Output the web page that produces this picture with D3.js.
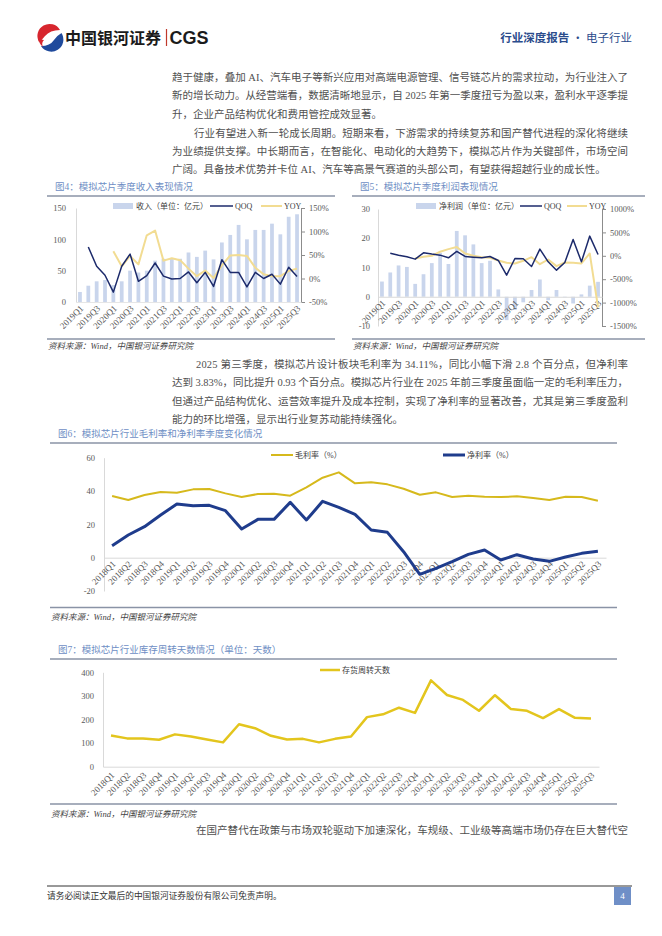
<!DOCTYPE html>
<html><head><meta charset="utf-8">
<script src="https://cdn.jsdelivr.net/npm/d3@7"></script>
<style>
body{margin:0;background:#fff;}
svg{display:block;}
text{font-family:"Liberation Serif","Noto Sans CJK SC",serif;}
</style></head><body>
<svg id="page" width="662" height="936"></svg>
<script>
// ---------- DATA ----------
const q19 = ["2019Q1","2019Q2","2019Q3","2019Q4","2020Q1","2020Q2","2020Q3","2020Q4","2021Q1","2021Q2","2021Q3","2021Q4","2022Q1","2022Q2","2022Q3","2022Q4","2023Q1","2023Q2","2023Q3","2023Q4","2024Q1","2024Q2","2024Q3","2024Q4","2025Q1","2025Q2","2025Q3"];
const q19Ticks = ["2019Q1","2019Q3","2020Q1","2020Q3","2021Q1","2021Q3","2022Q1","2022Q3","2023Q1","2023Q3","2024Q1","2024Q3","2025Q1","2025Q3"];
const revenue = [16,26,33,35,27,33,50,47,50,66,69,69,69,79,72,82,68,95,107,123,100,115,115,125,108,136,140];
const revQoq = [null,67,26,7,-29,26,52,-6,6,33,5,-1,0,14,-9,13,-17,40,13,13,-18,13,0,9,-12,24,4];
const revYoy = [null,null,null,null,58,26,48,30,92,102,38,43,39,21,5,17,1,28,49,50,48,23,9,5,5,16,21];
const profit = [5.2,8.3,10.7,10.2,4.4,7.7,11.5,15,11.2,22.5,21,17.9,11.5,12.3,2.5,-8,-4.5,-1.9,2.3,5.9,-1.2,2.3,-0.2,-2.3,0.8,3.8,5.1];
const profitQoq = [null,55,14,-21,-71,64,36,14,-43,93,-14,-29,-43,-14,-100,-414,-57,-64,-229,143,-129,-307,-143,350,-129,421,29];
const profitYoy = [null,null,null,null,-57,-21,0,86,143,186,50,0,-29,-43,-100,-150,-164,-107,-29,-179,-79,-221,-143,-150,-164,50,-1100];
const q18 = ["2018Q1","2018Q2","2018Q3","2018Q4","2019Q1","2019Q2","2019Q3","2019Q4","2020Q1","2020Q2","2020Q3","2020Q4","2021Q1","2021Q2","2021Q3","2021Q4","2022Q1","2022Q2","2022Q3","2022Q4","2023Q1","2023Q2","2023Q3","2023Q4","2024Q1","2024Q2","2024Q3","2024Q4","2025Q1","2025Q2","2025Q3"];
const grossMargin = [37,34.6,37.6,39.4,39,41,41.2,38.6,36.4,38.2,38.4,37.2,42.2,48,51.2,44.6,45.2,44,41.4,37.8,39.2,36.4,37.2,36.6,36.4,36.8,35.8,34.6,36.6,36.4,34.11];
const netMargin = [7.2,13.6,18.6,25.6,32.2,31.2,31.4,28.2,17.2,23,23,33.2,22.6,33.8,30.2,26,16.6,15.2,3.6,-10,-6.4,-2.4,2,4.6,-1.4,1.8,-0.8,-2.2,0.4,2.6,3.83];
const inventoryDays = [132,120,120,114,137,128,115,103,180,163,131,115,118,103,118,128,210,222,250,228,366,304,283,237,303,244,237,206,244,207,204];
const fig4LeftTicks = [0,50,100,150];
const fig4RightTicks = [-50,0,50,100,150];
const fig5LeftTicks = [-10,0,10,20,30];
const fig5RightTicks = [-1500,-1000,-500,0,500,1000];
const fig6Ticks = [-20,0,20,40,60];
const fig7Ticks = [0,100,200,300,400];

// ---------- PAGE ----------
const svg = d3.select("#page");
const C = {title:"#6e8ec4", frame:"#8a93a6", bar:"#c9d5ec", qoq:"#1c2a6b", yoy:"#f2dc92",
           gross:"#d6b91c", net:"#1f3c8c", inv:"#e3c51d", axisTxt:"#595959", text:"#505050"};

// header logo
svg.append("path").attr("d","M39,42 A11.5,11.5 0 0 1 60,30 Q50,30 45,36 Q42,40 39,42 Z").attr("fill","#d7262e");
svg.append("path").attr("d","M61.5,33 A11.5,11.5 0 0 1 41,46 Q50,46 54,40 Q57,35.5 61.5,33 Z").attr("fill","#1f4a9c");
svg.append("path").attr("d","M38.6,38 A11.5,11.5 0 0 0 43,47 Q41,43 44,40 Q41,40 38.6,38 Z").attr("fill","#d7262e");
svg.append("text").attr("x",65).attr("y",43.5).text("中国银河证券")
  .style("font-family","Noto Sans CJK SC").attr("font-weight",700).attr("font-size",16).attr("fill","#1b1b1b");
svg.append("line").attr("x1",166.5).attr("x2",166.5).attr("y1",29).attr("y2",46).attr("stroke","#c0392b").attr("stroke-width",1.2);
svg.append("text").attr("x",169.5).attr("y",44).text("CGS")
  .style("font-family","Liberation Sans").attr("font-weight",700).attr("font-size",18).attr("fill","#1b1b1b");
const hdr = svg.append("text").attr("x",632).attr("y",42).attr("text-anchor","end").attr("font-size",11.5).attr("fill","#2b4c8c")
  .style("font-family","Noto Sans CJK SC");
hdr.append("tspan").attr("font-weight",700).text("行业深度报告");
hdr.append("tspan").text(" · 电子行业");

// body text
function line(x, y, str, endX){
  const t = svg.append("text").attr("x",x).attr("y",y+3.8).attr("font-size",10.5).attr("fill",C.text).text(str);
  if(endX) t.attr("textLength",endX-x).attr("lengthAdjust","spacing");
}
line(172,77,"趋于健康，叠加 AI、汽车电子等新兴应用对高端电源管理、信号链芯片的需求拉动，为行业注入了",628);
line(172,95.5,"新的增长动力。从经营端看，数据清晰地显示，自 2025 年第一季度扭亏为盈以来，盈利水平逐季提",628);
line(172,114,"升，企业产品结构优化和费用管控成效显著。");
line(194,133,"行业有望进入新一轮成长周期。短期来看，下游需求的持续复苏和国产替代进程的深化将继续",628);
line(172,151,"为业绩提供支撑。中长期而言，在智能化、电动化的大趋势下，模拟芯片作为关键部件，市场空间",628);
line(172,169.5,"广阔。具备技术优势并卡位 AI、汽车等高景气赛道的头部公司，有望获得超越行业的成长性。");
line(196,364,"2025 第三季度，模拟芯片设计板块毛利率为 34.11%，同比小幅下滑 2.8 个百分点，但净利率",628);
line(172,382.5,"达到 3.83%，同比提升 0.93 个百分点。模拟芯片行业在 2025 年前三季度虽面临一定的毛利率压力，",628);
line(172,401,"但通过产品结构优化、运营效率提升及成本控制，实现了净利率的显著改善，尤其是第三季度盈利",628);
line(172,419,"能力的环比增强，显示出行业复苏动能持续强化。");
line(196,830,"在国产替代在政策与市场双轮驱动下加速深化，车规级、工业级等高端市场仍存在巨大替代空",628);

// helpers
function frame(x1,x2,yTop,yBot,title,srcY){
  svg.append("text").attr("x",x1+8).attr("y",yTop-6).attr("font-size",9.5).attr("fill",C.title).text(title);
  svg.append("line").attr("x1",x1).attr("x2",x2).attr("y1",yTop).attr("y2",yTop).attr("stroke",C.frame).attr("stroke-width",1.3);
  svg.append("line").attr("x1",x1).attr("x2",x2).attr("y1",yBot).attr("y2",yBot).attr("stroke",C.frame).attr("stroke-width",1.3);
  svg.append("text").attr("x",x1+1).attr("y",srcY+3).attr("font-size",8.5).attr("font-style","italic").attr("fill","#444")
    .text("资料来源：Wind，中国银河证券研究院");
}
function leftAxis(scale,x,ticks,pad){
  const g = svg.append("g").attr("transform",`translate(${x},0)`)
    .call(d3.axisLeft(scale).tickValues(ticks).tickFormat(d=>String(d)).tickSize(0).tickSizeOuter(0).tickPadding(pad));
  g.attr("font-size",8.5);
  g.select(".domain").attr("stroke","#d9d9d9");
  g.selectAll("text").attr("fill",C.axisTxt);
}
function rightAxis(scale,x,ticks){
  const g = svg.append("g").attr("transform",`translate(${x},0)`)
    .call(d3.axisRight(scale).tickValues(ticks).tickFormat(d=>d+"%").tickSize(4).tickSizeOuter(0).tickPadding(4));
  g.attr("font-size",8.5);
  g.select(".domain").attr("stroke","#8c8c8c");
  g.selectAll(".tick line").attr("stroke","#8c8c8c");
  g.selectAll("text").attr("fill",C.axisTxt);
}
function bottomAxis(scale,y,ticks,dx,dy,domainColor){
  const g = svg.append("g").attr("transform",`translate(0,${y})`)
    .call(d3.axisBottom(scale).tickValues(ticks).tickSize(0).tickSizeOuter(0));
  g.attr("font-size",9);
  g.select(".domain").attr("stroke",domainColor);
  g.selectAll("text").attr("fill",C.axisTxt).attr("x",0).attr("y",0).attr("dy",0)
    .attr("text-anchor","end").attr("transform",`translate(${dx},${dy}) rotate(-45)`);
}
function legendRect(x,y,label,color){
  svg.append("rect").attr("x",x).attr("y",y-3).attr("width",20).attr("height",6).attr("fill",color);
  svg.append("text").attr("x",x+23).attr("y",y+3).attr("font-size",8).attr("fill","#404040").text(label);
}
function legendLine(x,y,w,label,color,sw){
  svg.append("line").attr("x1",x).attr("x2",x+w).attr("y1",y).attr("y2",y).attr("stroke",color).attr("stroke-width",sw);
  svg.append("text").attr("x",x+w+2).attr("y",y+3).attr("font-size",8).attr("fill","#404040").text(label);
}
function drawLine(xs, ys, cats, vals, color, sw){
  svg.append("path").datum(vals.map((v,i)=>({c:cats[i],v})))
    .attr("fill","none").attr("stroke",color).attr("stroke-width",sw).attr("stroke-linejoin","round")
    .attr("d", d3.line().defined(d=>d.v!=null).x(d=>xs(d.c)+xs.bandwidth()/2).y(d=>ys(d.v)));
}

// ---------- FIG 4 ----------
frame(47,335,196,339,"图4：模拟芯片季度收入表现情况",346);
const x4 = d3.scaleBand().domain(q19).range([76,301]).paddingInner(0.55).paddingOuter(0.25);
const y4L = d3.scaleLinear().domain([0,150]).range([302,208]);
const y4R = d3.scaleLinear().domain([-50,150]).range([302,208]);
svg.append("g").selectAll("rect").data(revenue).join("rect")
  .attr("x",(d,i)=>x4(q19[i])).attr("width",x4.bandwidth())
  .attr("y",d=>y4L(d)).attr("height",d=>y4L(0)-y4L(d)).attr("fill",C.bar);
leftAxis(y4L,76,fig4LeftTicks,10);
rightAxis(y4R,301,fig4RightTicks);
bottomAxis(x4,y4L(0),q19Ticks,4,7,"#e6e6e6");
drawLine(x4,y4R,q19,revYoy,C.yoy,2);
drawLine(x4,y4R,q19,revQoq,C.qoq,1.5);
legendRect(113,206,"收入（单位：亿元）",C.bar);
legendLine(210,206,23,"QOQ",C.qoq,1.5);
legendLine(261,206,21,"YOY",C.yoy,2);

// ---------- FIG 5 ----------
frame(352,645,196,339,"图5：模拟芯片季度利润表现情况",346);
const x5 = d3.scaleBand().domain(q19).range([378,602]).paddingInner(0.55).paddingOuter(0.25);
const y5L = d3.scaleLinear().domain([-10,30]).range([326,209]);
const y5R = d3.scaleLinear().domain([-1500,1000]).range([326,209]);
svg.append("g").selectAll("rect").data(profit).join("rect")
  .attr("x",(d,i)=>x5(q19[i])).attr("width",x5.bandwidth())
  .attr("y",d=>Math.min(y5L(d),y5L(0))).attr("height",d=>Math.abs(y5L(0)-y5L(d))).attr("fill",C.bar);
leftAxis(y5L,378,fig5LeftTicks,8);
rightAxis(y5R,602,fig5RightTicks);
bottomAxis(x5,y5L(0),q19Ticks,4,7,"#d9d9d9");
drawLine(x5,y5R,q19,profitYoy,C.yoy,2);
drawLine(x5,y5R,q19,profitQoq,C.qoq,1.5);
legendRect(416,206,"净利润（单位：亿元）",C.bar);
legendLine(520,206,22,"QOQ",C.qoq,1.5);
legendLine(567,206,20,"YOY",C.yoy,2);

// ---------- FIG 6 ----------
frame(50,617,443,607.5,"图6：模拟芯片行业毛利率和净利率季度变化情况",617);
const x6 = d3.scaleBand().domain(q18).range([104,606]);
const y6 = d3.scaleLinear().domain([-20,60]).range([591,457.7]);
leftAxis(y6,104,fig6Ticks,9);
bottomAxis(x6,y6(0),q18,4,7,"#d9d9d9");
drawLine(x6,y6,q18,grossMargin,C.gross,2);
drawLine(x6,y6,q18,netMargin,C.net,3);
legendLine(271,455,22,"毛利率（%）",C.gross,2);
legendLine(443,455,22,"净利率（%）",C.net,3);

// ---------- FIG 7 ----------
frame(50,617,659,804,"图7：模拟芯片行业库存周转天数情况（单位：天数）",813.5);
const x7 = d3.scaleBand().domain(q18).range([103,599]);
const y7 = d3.scaleLinear().domain([0,400]).range([766.7,672.3]);
leftAxis(y7,103,fig7Ticks,9);
bottomAxis(x7,y7(0),q18,4,9,"#d9d9d9");
drawLine(x7,y7,q18,inventoryDays,C.inv,2.5);
legendLine(320,670,20,"存货周转天数",C.inv,2.5);

// ---------- FOOTER ----------
svg.append("line").attr("x1",47).attr("x2",632).attr("y1",886).attr("y2",886).attr("stroke","#333").attr("stroke-width",1);
svg.append("text").attr("x",47).attr("y",899).attr("font-size",8.7).attr("fill","#333").text("请务必阅读正文最后的中国银河证券股份有限公司免责声明。");
svg.append("rect").attr("x",614).attr("y",887).attr("width",17).attr("height",18).attr("fill","#6f8fc7");
svg.append("text").attr("x",622.5).attr("y",899).attr("text-anchor","middle").attr("font-size",9).attr("fill","#fff").text("4");
</script>
</body></html>
